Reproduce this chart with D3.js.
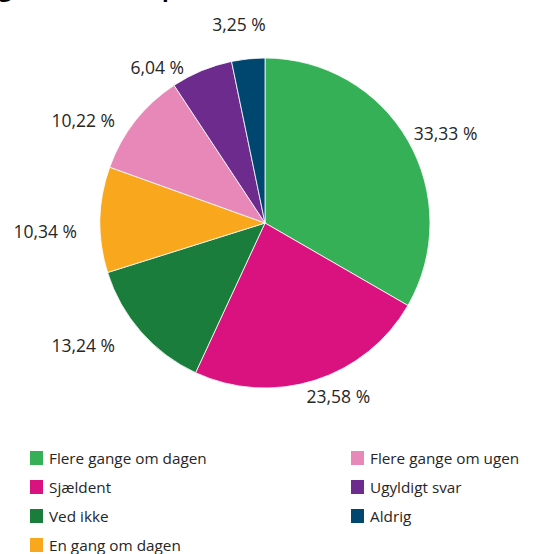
<!DOCTYPE html>
<html>
<head>
<meta charset="utf-8">
<script src="https://cdn.jsdelivr.net/npm/d3@7"></script>
<style>
  body { margin: 0; background: #fff; }
  svg text { font-family: "Open Sans", sans-serif; fill: #262626; }
</style>
</head>
<body>
<svg width="551" height="554"></svg>
<script>
// categories in drawing order (clockwise from top)
let categories = ['Flere gange om dagen', 'Sjældent', 'Ved ikke', 'En gang om dagen',
                  'Flere gange om ugen', 'Ugyldigt svar', 'Aldrig'];
let values = [33.33, 23.58, 13.24, 10.34, 10.22, 6.04, 3.25];
let colors = ['#35b056', '#da127f', '#1b7d3b', '#f9a81d', '#e888b9', '#6d2b8d', '#00476f'];
// legend columns (column-major)
let legendCols = [
    ['Flere gange om dagen', 'Sjældent', 'Ved ikke', 'En gang om dagen'],
    ['Flere gange om ugen', 'Ugyldigt svar', 'Aldrig']
];

let svg = d3.select('svg');
let cx = 265, cy = 223, radius = 165;

// label layout: [angle shift in degrees from slice middle, distance from centre]
// (the original spreads the small slices' labels apart)
let labelNudge = [[3.4, 202], [-5.4, 188], [7.4, 219], [-3.3, 220], [-8.6, 209], [-12, 190], [-1.6, 201]];

// title cut off at the top edge, only the descenders show
svg.append('text')
    .attr('x', -1).attr('y', -3)
    .style('font-weight', 'bold').style('font-size', '22px').style('fill', '#000')
    .text('g');
svg.append('text')
    .attr('x', 162).attr('y', -3)
    .style('font-weight', 'bold').style('font-size', '22px').style('fill', '#000')
    .text('p');

let data = categories.map((c, i) => ({cat: c, value: values[i], color: colors[i]}));

let pie = d3.pie().sort(null).value(d => d.value);
let arc = d3.arc().innerRadius(0).outerRadius(radius);
let arcs = pie(data);

let g = svg.append('g').attr('transform', `translate(${cx},${cy})`);

g.selectAll('path')
    .data(arcs)
    .enter()
    .append('path')
        .attr('d', arc)
        .attr('fill', d => d.data.color)
        .attr('stroke', '#fff')
        .attr('stroke-width', 0.8);

let fmt = v => d3.format('.2f')(v).replace('.', ',') + ' %';

// labels outside the slice ends
g.selectAll('.lbl')
    .data(arcs)
    .enter()
    .append('text')
        .classed('lbl', true)
        .style('font-size', '17.5px')
        .attr('text-anchor', 'middle')
        .attr('dominant-baseline', 'central')
        .attr('x', (d, i) => {
            let a = (d.startAngle + d.endAngle) / 2 + labelNudge[i][0] * Math.PI / 180;
            return labelNudge[i][1] * Math.sin(a);
        })
        .attr('y', (d, i) => {
            let a = (d.startAngle + d.endAngle) / 2 + labelNudge[i][0] * Math.PI / 180;
            return -labelNudge[i][1] * Math.cos(a);
        })
        .text(d => fmt(d.data.value));

// legend
let colX = [30, 351], rowY = 458, rowH = 29;
let colorOf = c => colors[categories.indexOf(c)];
legendCols.forEach((col, ci) => {
    let lg = svg.append('g').attr('transform', `translate(${colX[ci]},${rowY})`);
    let items = lg.selectAll('g')
        .data(col)
        .enter()
        .append('g')
            .attr('transform', (d, i) => `translate(0,${i * rowH})`);
    items.append('rect')
        .attr('x', 0).attr('y', -7)
        .attr('width', 13).attr('height', 14)
        .attr('fill', d => colorOf(d));
    items.append('text')
        .attr('x', 19).attr('y', 0)
        .attr('dominant-baseline', 'central')
        .style('font-size', '15.3px')
        .text(d => d);
});
</script>
</body>
</html>
